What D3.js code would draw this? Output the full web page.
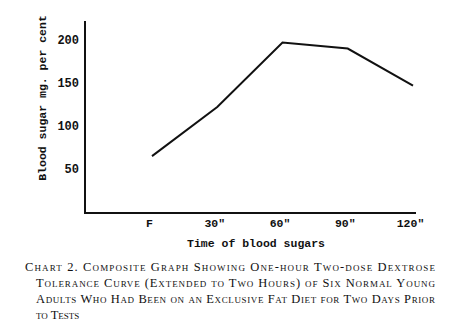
<!DOCTYPE html>
<html><head><meta charset="utf-8">
<script src="https://cdn.jsdelivr.net/npm/d3@7"></script>
<style>html,body{margin:0;padding:0;background:#fff;}</style>
</head><body>
<svg id="c" width="467" height="334"></svg>
<script>
const categories = ["F", "30\"", "60\"", "90\"", "120\""];
const values = [65, 122, 197, 190, 147];
const yTicks = [50, 100, 150, 200];
const captionLines = [
  "Chart 2. Composite Graph Showing One-hour Two-dose Dextrose",
  "Tolerance Curve (Extended to Two Hours) of Six Normal Young",
  "Adults Who Had Been on an Exclusive Fat Diet for Two Days Prior",
  "to Tests"
];

const svg = d3.select("#c");
const mono = "'Liberation Mono', 'DejaVu Sans Mono', monospace";
const x0 = 85, yBase = 213, xEnd = 416, yTop = 21;

const x = d3.scalePoint().domain(categories).range([152, 413]);
const y = d3.scaleLinear().domain([0, 200]).range([212, 40]);

svg.append("line").attr("x1", x0).attr("x2", x0).attr("y1", yTop).attr("y2", yBase+1)
  .attr("stroke", "#111").attr("stroke-width", 2);
svg.append("line").attr("x1", x0-1).attr("x2", xEnd).attr("y1", yBase).attr("y2", yBase)
  .attr("stroke", "#111").attr("stroke-width", 2);

const yAxis = svg.append("g").attr("transform", `translate(${x0},0)`)
  .call(d3.axisLeft(y).tickValues(yTicks).tickSize(0).tickPadding(6));
yAxis.select(".domain").remove();
yAxis.selectAll("text").attr("font-family", mono).attr("font-weight", "bold")
  .attr("font-size", 12).attr("fill", "#111");

const xAxis = svg.append("g").attr("transform", `translate(0,${yBase})`)
  .call(d3.axisBottom(x).tickSize(0).tickPadding(6));
xAxis.select(".domain").remove();
xAxis.selectAll("text").attr("font-family", mono).attr("font-weight", "bold")
  .attr("font-size", 11.5).attr("fill", "#111").attr("dx", -3);

const line = d3.line().x((d, i) => x(categories[i])).y(d => y(d));
svg.append("path").datum(values).attr("d", line)
  .attr("fill", "none").attr("stroke", "#111").attr("stroke-width", 2)
  .attr("stroke-linejoin", "miter");

svg.append("text").attr("x", 256).attr("y", 247).attr("text-anchor", "middle")
  .attr("font-family", mono).attr("font-weight", "bold").attr("font-size", 11.5)
  .attr("fill", "#111").text("Time of blood sugars");
svg.append("text").attr("transform", "translate(46,98) rotate(-90)").attr("text-anchor", "middle")
  .attr("font-family", mono).attr("font-weight", "bold").attr("font-size", 11.5)
  .attr("fill", "#111").text("Blood sugar mg. per cent");

const capY = [271, 287, 303, 319];
captionLines.forEach((t, i) => {
  const tx = svg.append("text").attr("x", i === 0 ? 25 : 36).attr("y", capY[i])
    .attr("font-family", "'Liberation Serif', 'DejaVu Serif', serif")
    .attr("font-size", 12.5).attr("font-variant", "small-caps")
    .attr("fill", "#111").text(t);
  if (i < 3) tx.attr("textLength", i === 0 ? 410 : 399).attr("lengthAdjust", "spacing");
});
</script>
</body></html>
